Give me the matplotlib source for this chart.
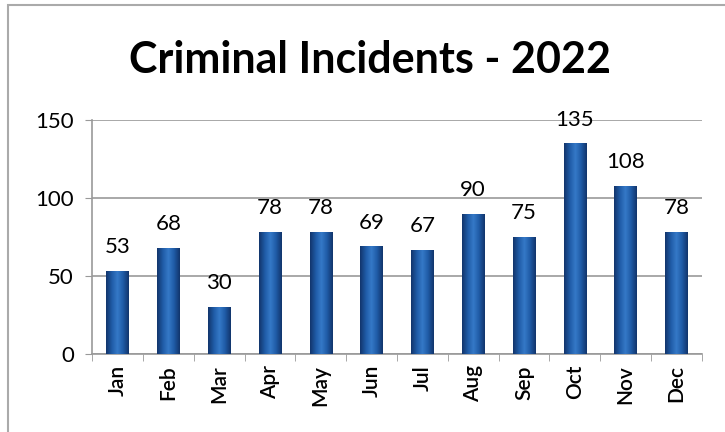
import matplotlib
matplotlib.use("Agg")
import matplotlib.pyplot as plt
import numpy as np
from matplotlib.patches import Rectangle
from matplotlib.colors import LinearSegmentedColormap

months = ["Jan", "Feb", "Mar", "Apr", "May", "Jun", "Jul", "Aug", "Sep", "Oct", "Nov", "Dec"]
incidents = [53, 68, 30, 78, 78, 69, 67, 90, 75, 135, 108, 78]
yticks = [0, 50, 100, 150]
title = "Criminal Incidents - 2022"

plt.rcParams['font.family'] = ['Lato', 'DejaVu Sans']

fig = plt.figure(figsize=(7.25, 4.32), dpi=100)
fig.patch.set_facecolor("white")
ax = fig.add_axes([0.127, 0.1806, 0.841, 0.5414])

x = np.arange(len(months))
bars = ax.bar(x, incidents, width=0.44, color="#2563b3", zorder=3)

cmap = LinearSegmentedColormap.from_list("cyl", ["#12356c", "#1f5ba6", "#3579c8", "#1f5ba6", "#12356c"])
grad = np.linspace(0, 1, 64).reshape(1, -1)
for b in bars:
    x0, w, h = b.get_x(), b.get_width(), b.get_height()
    im = ax.imshow(grad, cmap=cmap, aspect="auto", extent=[x0, x0 + w, 0, h], zorder=4)
    im.set_clip_path(b)

ax.set_xlim(-0.5, len(months) - 0.5)
ax.set_ylim(0, 150)
ax.set_yticks(yticks)
ax.set_yticklabels([str(v) for v in yticks], fontsize=16)
ax.set_xticks(x)
ax.set_xticklabels(months, rotation=90, fontsize=15, fontweight="semibold")
ax.set_xticks(np.arange(-0.5, len(months), 1), minor=True)
ax.tick_params(axis="x", which="major", length=0, pad=8)
ax.tick_params(axis="x", which="minor", length=5, color="#999999")
ax.tick_params(axis="y", length=5, color="#999999", pad=8)

ax.grid(axis="y", color="#9a9a9a", linewidth=1.2, zorder=1)
for s in ["top", "right"]:
    ax.spines[s].set_visible(False)
for s in ["left", "bottom"]:
    ax.spines[s].set_color("#999999")
    ax.spines[s].set_linewidth(1.2)

for xi, v in zip(x, incidents):
    ax.annotate(str(v), (xi, v), xytext=(0, 10), textcoords="offset points",
                ha="center", va="bottom", fontsize=16, zorder=5)

fig.text(0.51, 0.86, title, ha="center", va="center", fontsize=31, fontweight="bold")

fig.patches.append(Rectangle((0.011, -0.05), 1.05, 1.038, transform=fig.transFigure,
                             fill=False, edgecolor="#aaaaaa", linewidth=1.5))

fig.savefig("out.png", dpi=100)
